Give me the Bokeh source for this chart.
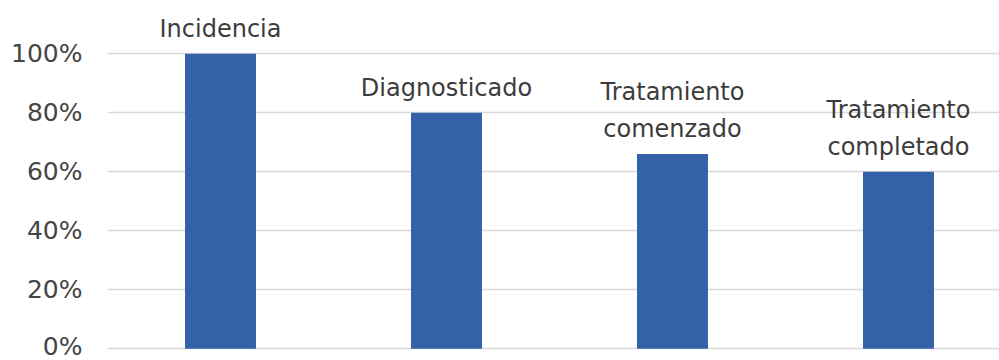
from bokeh.plotting import figure
from bokeh.models import ColumnDataSource, Range1d, FixedTicker, PrintfTickFormatter
from bokeh.core.properties import value
from bokeh.embed import file_html
from bokeh.resources import INLINE

# Care cascade: share of cases remaining at each stage (%)
categories = ["Incidencia", "Diagnosticado", "Tratamiento\ncomenzado", "Tratamiento\ncompletado"]
percentages = [100, 80, 66, 60]
y_ticks = [0, 20, 40, 60, 80, 100]

FONT = "DejaVu Sans"
BAR_COLOR = "#3462a8"

source = ColumnDataSource(data=dict(
    x=list(range(len(categories))),
    top=percentages,
    label=categories,
))

p = figure(
    width=999, height=360,
    output_backend="svg", toolbar_location=None,
    x_range=Range1d(-0.5, 3.447),
    y_range=Range1d(-3.97, 118.07),
    min_border_left=107, min_border_right=0,
    min_border_top=0, min_border_bottom=0,
)
p.outline_line_color = None
p.background_fill_color = "white"
p.border_fill_color = "white"

p.vbar(x="x", top="top", bottom=0, width=0.314, source=source,
       fill_color=BAR_COLOR, line_color=None)

p.text(x="x", y="top", text="label", source=source,
       text_align="center", text_baseline="bottom",
       y_offset=-11, text_line_height=1.33,
       text_font=value(FONT), text_font_size="24px", text_color="#3c3c3c")

p.xaxis.visible = False
p.xgrid.visible = False

yax = p.yaxis[0]
yax.ticker = FixedTicker(ticks=y_ticks)
yax.formatter = PrintfTickFormatter(format="%d%%")
yax.axis_line_color = None
yax.major_tick_line_color = None
yax.minor_tick_line_color = None
yax.major_tick_out = 0
yax.major_label_standoff = 25
yax.major_label_text_font = FONT
yax.major_label_text_font_size = "25px"
yax.major_label_text_color = "#454545"

p.ygrid.ticker = FixedTicker(ticks=y_ticks)
p.ygrid.grid_line_color = "#d9d9d9"
p.ygrid.grid_line_width = 1.5

open("out.html", "w").write(file_html(p, INLINE))
